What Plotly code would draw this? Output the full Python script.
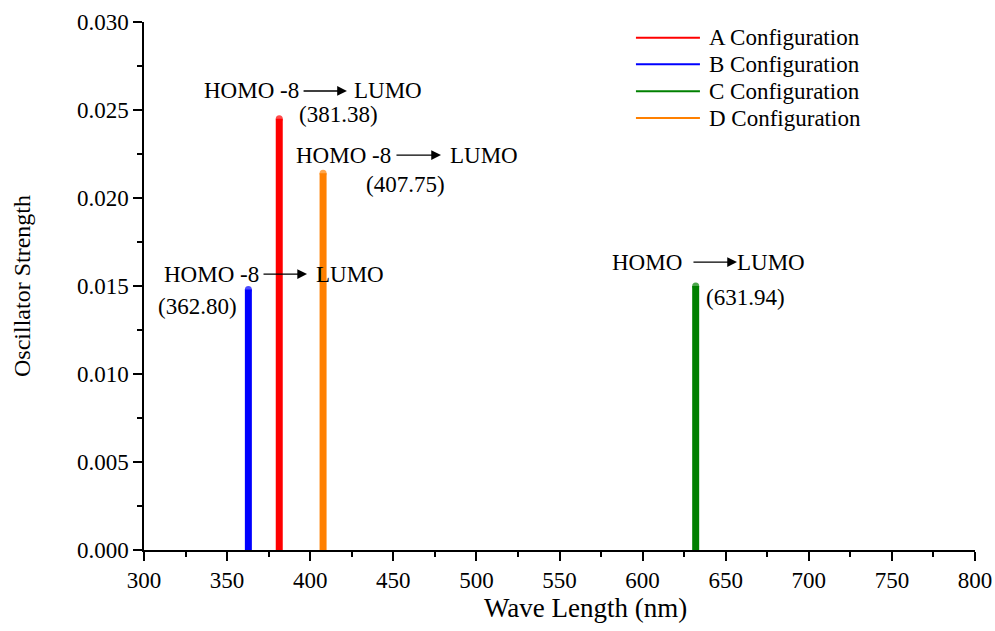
import plotly.graph_objects as go

# Excitation data: wavelength (nm) and oscillator strength per configuration
configs = ["A Configuration", "B Configuration", "C Configuration", "D Configuration"]
wavelengths = [381.38, 362.80, 631.94, 407.75]
strengths = [0.0245, 0.0148, 0.0150, 0.0214]
colors = ["#FF0000", "#0000FF", "#008000", "#FF8000"]

# Orbital transitions behind each band
transitions = ["HOMO -8", "HOMO -8", "HOMO", "HOMO -8"]
acceptor = "LUMO"

FONT = "Liberation Serif"

fig = go.Figure()

# Stick spectrum: one vertical line per configuration, rounded at the top
for name, wl, f, c in zip(configs, wavelengths, strengths, colors):
    fig.add_trace(go.Scatter(
        x=[wl, wl], y=[0, f], mode="lines+markers", name=name,
        line=dict(color=c, width=7),
        marker=dict(color=c, size=[0, 7], line=dict(width=0)),
        showlegend=False, hoverinfo="x+y",
    ))

# Label placement for each transition (data coordinates):
# donor centre x, label row y, arrow start x, arrow end x, LUMO centre x,
# wavelength-label centre x, wavelength-label y
label_pos = {
    "A Configuration": (364.4, 0.02608, 395.1, 422.1, 446.6, 417.3, 0.02472),
    "B Configuration": (340.6, 0.01568, 371.0, 398.1, 424.0, 331.9, 0.01381),
    "C Configuration": (602.4, 0.01636, 629.7, 656.8, 677.3, 661.9, 0.01432),
    "D Configuration": (420.3, 0.02244, 451.0, 478.7, 504.3, 457.3, 0.02074),
}

ann_font = dict(family=FONT, size=23, color="black")
for name, wl, donor in zip(configs, wavelengths, transitions):
    dx, dy, ax0, ax1, lx, vx, vy = label_pos[name]
    fig.add_annotation(x=dx, y=dy, text=donor, showarrow=False, font=ann_font,
                       xanchor="center", yanchor="middle")
    fig.add_annotation(x=ax1, y=dy, ax=ax0, ay=dy, axref="x", ayref="y",
                       text="", showarrow=True, arrowhead=2, arrowsize=1.5,
                       arrowwidth=1.3, arrowcolor="black")
    fig.add_annotation(x=lx, y=dy, text=acceptor, showarrow=False, font=ann_font,
                       xanchor="center", yanchor="middle")
    fig.add_annotation(x=vx, y=vy, text=f"({wl:.2f})", showarrow=False,
                       font=ann_font, xanchor="center", yanchor="middle")

# Legend drawn as short line samples with labels
legend_rows = [0.970, 0.920, 0.869, 0.818]
for name, c, ry in zip(configs, colors, legend_rows):
    fig.add_shape(type="line", xref="paper", yref="paper",
                  x0=0.592, x1=0.669, y0=ry, y1=ry,
                  line=dict(color=c, width=2))
    fig.add_annotation(xref="paper", yref="paper", x=0.6775, y=ry, text=name,
                       showarrow=False, xanchor="left", yanchor="middle",
                       font=dict(family=FONT, size=23, color="black"))

# x-axis title set as a paper annotation below the tick labels
fig.add_annotation(xref="paper", yref="paper", x=0.531, y=-0.11,
                   text="Wave Length (nm)", showarrow=False,
                   xanchor="center", yanchor="middle",
                   font=dict(family=FONT, size=27, color="black"))

axis_common = dict(
    showline=True, linecolor="black", linewidth=1.5, mirror=False,
    showgrid=False, zeroline=False, automargin=False,
    ticks="outside", ticklen=9, tickwidth=1.5, tickcolor="black",
    tickfont=dict(family=FONT, size=23, color="black"),
)

fig.update_xaxes(
    range=[300, 800], tick0=300, dtick=50,
    minor=dict(ticks="outside", ticklen=5, tickwidth=1.5, tickcolor="black", dtick=25),
    **axis_common,
)
fig.update_yaxes(
    range=[0, 0.030], tick0=0, dtick=0.005, tickformat=".3f",
    minor=dict(ticks="outside", ticklen=5, tickwidth=1.5, tickcolor="black", dtick=0.0025),
    title=dict(text="Oscillator Strength", font=dict(family=FONT, size=24, color="black"),
               standoff=40),
    **axis_common,
)

fig.update_layout(
    width=995, height=631,
    margin=dict(l=144, r=20, t=22, b=81),
    plot_bgcolor="white", paper_bgcolor="white",
    showlegend=False,
)

fig.write_html("out.html")
